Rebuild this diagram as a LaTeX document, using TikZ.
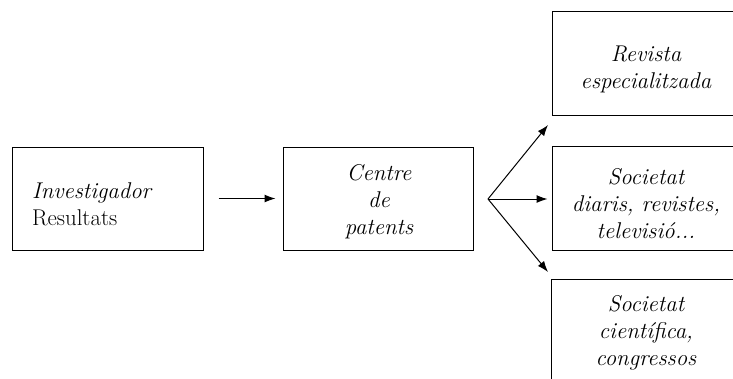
\documentclass[tikz,border=0pt]{standalone}
\usepackage{fontspec}
\usetikzlibrary{arrows.meta}
\tikzset{
  box/.style={draw=black, line width=1pt, minimum width=181pt, inner sep=0pt},
  txt/.style={inner sep=0pt, align=center, font=\fontsize{22.8}{27}\selectfont\itshape},
  conn/.style={line width=1pt, -{Latex[length=11pt,width=8pt]}}
}
\begin{document}
\begin{tikzpicture}[x=1pt,y=-1pt]
\useasboundingbox (0,0) rectangle (733,378);
\node[box, minimum width=191pt, minimum height=103pt] (inv) at (107.5,198.5) {};
\node[txt, align=left, anchor=west] (invt) at (32,204) {Investigador\\\upshape Resultats};
\node[box, minimum width=190pt, minimum height=103pt] (cp) at (378,198.5) {};
\node[txt] (cpt) at (379,202) {Centre\\de\\patents};
\node[box, minimum height=104pt] (rev) at (642.5,63) {};
\node[txt] (revt) at (646,69) {Revista\\especialitzada};
\node[box, minimum height=104pt] (soc) at (642.5,198) {};
\node[txt] (soct) at (646,204) {Societat\\diaris, revistes,\\televisió...};
\node[minimum width=181pt, minimum height=102pt, inner sep=0pt] (sci) at (642.5,331) {};
\node[txt] (scit) at (646,333) {Societat\\científica,\\congressos};
\draw[line width=1pt] (sci.south west) -- (sci.north west) -- (sci.north east) -- (sci.south east);
\coordinate (fan) at (488,199);
\coordinate (ta) at (548,125);
\coordinate (tc) at (548,272);
\draw[conn, shorten <=15pt, shorten >=7pt] (inv.east) -- (cp.west);
\draw[conn] (fan) -- (ta);
\draw[conn, shorten >=4pt] (fan) -- (fan -| soc.west);
\draw[conn] (fan) -- (tc);
\end{tikzpicture}
\end{document}
